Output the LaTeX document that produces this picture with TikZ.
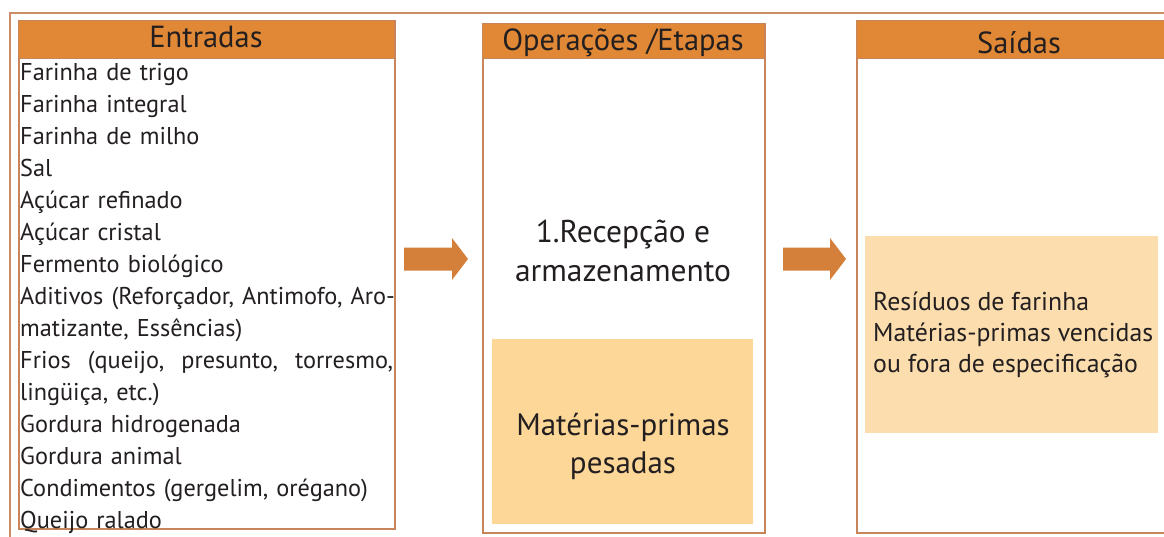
\documentclass[tikz,border=0pt]{standalone}
\usepackage{fontspec}
\setmainfont{PT Sans}
\definecolor{hdrorange}{HTML}{E08835}
\definecolor{brd}{HTML}{C8845A}
\definecolor{frame}{HTML}{CC8D66}
\definecolor{arrc}{HTML}{D4803A}
\definecolor{fillA}{HTML}{FDD797}
\definecolor{fillB}{HTML}{FCDDAE}
\definecolor{txt}{HTML}{231F20}
\tikzset{
  panel/.style={draw=brd, line width=2pt, fill=white, rectangle, inner sep=0pt, anchor=north west},
  hdrbox/.style={fill=hdrorange, draw=brd, line width=1pt, rectangle, inner sep=0pt, anchor=north west},
  hdrtext/.style={font=\fontsize{30.5}{34}\selectfont, text=txt, anchor=base, inner sep=0pt},
  subbox/.style={rectangle, inner sep=0pt, anchor=north west},
  bigtext/.style={font=\fontsize{31.5}{39}\selectfont, text=txt, align=center, anchor=base, inner sep=0pt},
  listtext/.style={font=\fontsize{24.3}{32}\selectfont, text=txt, align=left, anchor=base west, inner sep=0pt},
  arrowfill/.style={fill=arrc}
}
\begin{document}
\begin{tikzpicture}[x=1pt,y=-1pt]
\useasboundingbox (0,0) rectangle (1164,536);
\clip (0,0) rectangle (1164,536);
% outer frame
\coordinate (frBL) at (10,540);
\coordinate (frTL) at (10,12.5);
\coordinate (frTR) at (1170,12.5);
\draw[frame, line width=2pt] (frBL) -- (frTL) -- (frTR);

% Entradas
\node[panel, minimum width=376pt, minimum height=508pt] (inBox) at (18,20) {};
\node[hdrbox, minimum width=376pt, minimum height=38pt] (inHdr) at (18,20) {};
\node[hdrtext] (inTitle) at (206,47) {Entradas};
\node[listtext, text width=420pt] (inList) at (20,80) {Farinha de trigo\\
Farinha integral\\
Farinha de milho\\
Sal\\
Açúcar refinado\\
Açúcar cristal\\
Fermento biológico\\
Aditivos (Reforçador, Antimofo, Aro-\\
matizante, Essências)\\
\leavevmode\hbox to 373pt{Frios\hfill(queijo,\hfill presunto,\hfill torresmo,}\\
lingüiça, etc.)\\
Gordura hidrogenada\\
Gordura animal\\
Condimentos (gergelim, orégano)\\
Queijo ralado};

% Operações
\node[panel, minimum width=282pt, minimum height=509pt] (opBox) at (482,23) {};
\node[hdrbox, minimum width=282pt, minimum height=35pt] (opHdr) at (482,23) {};
\node[hdrtext] (opTitle) at (623,50.5) {Operações /Etapas};
\node[bigtext] (opStep) at (623,281) {1.Recepção e\\armazenamento};
\node[subbox, fill=fillA, minimum width=261pt, minimum height=185pt] (opOut) at (492,339) {};
\node[bigtext, font=\fontsize{31}{38}\selectfont] (opOutText) at (623,473) {Matérias-primas\\pesadas};

% Saídas
\node[panel, minimum width=326pt, minimum height=512pt] (outBox) at (856,20) {};
\node[hdrbox, minimum width=326pt, minimum height=38pt] (outHdr) at (856,20) {};
\node[hdrtext] (outTitle) at (1019,53) {Saídas};
\node[subbox, fill=fillB, minimum width=293pt, minimum height=197pt] (outRes) at (865,236) {};
\node[listtext, font=\fontsize{25.8}{31}\selectfont] (outText) at (873,372.7) {Resíduos de farinha\\
Matérias-primas vencidas\\
ou fora de especificação};

% arrows
\coordinate (arrA) at (404,259);
\coordinate (arrB) at (783,259);
\fill[arrowfill] (arrA) ++(0,-11.5) -- ++(48,0) -- ++(0,-9.5) -- ++(16,21) -- ++(-16,21) -- ++(0,-9.5) -- ++(-48,0) -- cycle;
\fill[arrowfill] (arrB) ++(0,-11.5) -- ++(47,0) -- ++(0,-9.5) -- ++(16,21) -- ++(-16,21) -- ++(0,-9.5) -- ++(-47,0) -- cycle;
\end{tikzpicture}
\end{document}
